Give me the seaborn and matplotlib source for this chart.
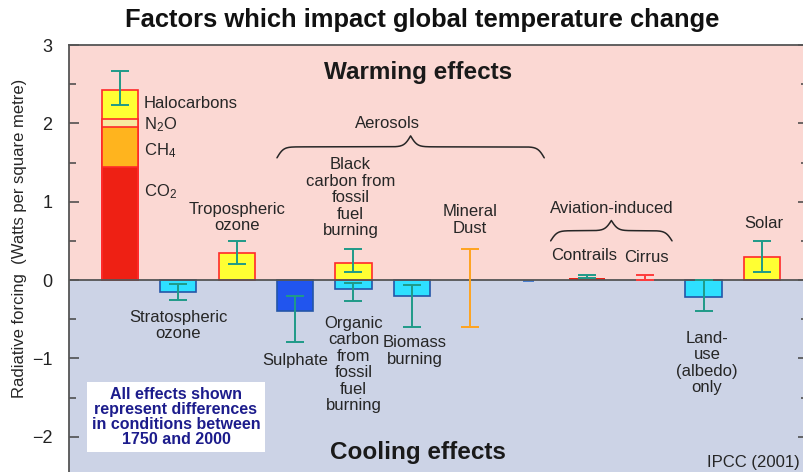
import matplotlib
matplotlib.use("Agg")
import matplotlib.pyplot as plt
import seaborn as sns
import numpy as np
import pandas as pd

# slots along the x axis, left to right
factors = ["Greenhouse gases", "Stratospheric ozone", "Tropospheric ozone", "Sulphate",
           "Fossil fuel carbon", "Biomass burning", "Mineral dust", "Indirect",
           "Contrails", "Cirrus", "Land-use", "Solar"]

# well mixed greenhouse gases (stacked, bottom to top)
ghg_names = ["CO$_2$", "CH$_4$", "N$_2$O", "Halocarbons"]
ghg_values = [1.44, 0.51, 0.11, 0.37]

# other single bars
bar_factors = ["Stratospheric ozone", "Tropospheric ozone", "Sulphate", "Biomass burning",
               "Indirect", "Contrails", "Land-use", "Solar"]
bar_values = [-0.15, 0.35, -0.39, -0.20, -0.02, 0.02, -0.22, 0.30]

# fossil fuel carbon aerosols: black (warming) and organic (cooling)
black_carbon = 0.22
organic_carbon = -0.11

# uncertainty ranges (low, high)
err_factors = ["Greenhouse gases", "Stratospheric ozone", "Tropospheric ozone", "Sulphate",
               "Fossil fuel carbon", "Fossil fuel carbon", "Biomass burning", "Mineral dust",
               "Contrails", "Cirrus", "Land-use", "Solar"]
err_low = [2.24, -0.26, 0.21, -0.79, 0.10, -0.27, -0.60, -0.60, 0.02, 0.00, -0.40, 0.10]
err_high = [2.67, -0.05, 0.50, -0.20, 0.40, -0.04, -0.06, 0.40, 0.07, 0.06, 0.00, 0.50]

sns.set_style("white")
plt.rcParams["font.family"] = ["Liberation Sans", "DejaVu Sans"]
plt.rcParams["mathtext.fontset"] = "custom"
plt.rcParams["mathtext.rm"] = "Liberation Sans"
plt.rcParams["mathtext.default"] = "regular"

W, H = 804, 472
fig = plt.figure(figsize=(W / 100, H / 100), dpi=100)
ax = fig.add_axes([69 / W, 0, (808 - 69) / W, 1 - 45 / H])

warm_edge = "#ff2a2a"
cool_edge = "#2456a8"
teal = "#1f9a88"
txt = "#262626"
pos = {f: i for i, f in enumerate(factors)}
bw = 0.62

# background: warming (pink) above zero, cooling (blue) below
ax.axhspan(0, 3, color="#fbd8d3", zorder=0)
ax.axhspan(-2.45, 0, color="#ccd3e6", zorder=0)

# stacked greenhouse gas bar, drawn from the top down
ghg_colors = ["#ee2014", "#ffb41e", "#f7e9a0", "#ffff33"]
tops = np.cumsum(ghg_values)
for i in reversed(range(len(ghg_values))):
    sns.barplot(x=[factors[0]], y=[tops[i]], order=factors, color=ghg_colors[i],
                edgecolor=warm_edge, linewidth=1.2, width=bw, saturation=1, ax=ax)

single = pd.DataFrame({"factor": bar_factors, "value": bar_values})
bar_cols = {"Stratospheric ozone": "#2ee0ff", "Tropospheric ozone": "#ffff33",
            "Sulphate": "#2155ee", "Biomass burning": "#2ee0ff", "Indirect": "#4a7fd0",
            "Contrails": "#ee2014", "Land-use": "#2ee0ff", "Solar": "#ffff33"}
sns.barplot(data=single, x="factor", y="value", hue="factor", order=factors,
            palette=bar_cols, legend=False, width=bw, saturation=1, linewidth=1.2, ax=ax)
for p in ax.patches[len(ghg_values):]:
    h = p.get_height()
    if h > 0:
        p.set_edgecolor(warm_edge)
    else:
        p.set_edgecolor(cool_edge)
# the small indirect mark is narrower and has no outline
for p in ax.patches:
    cx = p.get_x() + p.get_width() / 2
    if abs(cx - pos["Indirect"]) < 0.01:
        p.set_width(0.19)
        p.set_x(cx - 0.095)
        p.set_linewidth(0)
    if abs(cx - pos["Contrails"]) < 0.01:
        p.set_linewidth(0)

sns.barplot(x=["Fossil fuel carbon"], y=[organic_carbon], order=factors, color="#2ee0ff",
            edgecolor=cool_edge, linewidth=1.2, width=bw, saturation=1, ax=ax)
sns.barplot(x=["Fossil fuel carbon"], y=[black_carbon], order=factors, color="#ffff33",
            edgecolor=warm_edge, linewidth=1.2, width=bw, saturation=1, ax=ax)

# uncertainty bars
err_colors = {"Mineral dust": "#ffa31f", "Cirrus": "#ff3b3b"}
for f, lo, hi in zip(err_factors, err_low, err_high):
    ax.errorbar(pos[f], (lo + hi) / 2, yerr=(hi - lo) / 2, fmt="none",
                ecolor=err_colors.get(f, teal), elinewidth=1.4, capsize=6.5,
                capthick=1.4, zorder=5)

ax.axhline(0, color="#555555", lw=1.3, zorder=4)


def draw_brace(x0, x1, y_end, y_flat, beta=18):
    # horizontal curly brace, tip pointing up
    xs = np.linspace(x0, x1, 401)
    half = xs[:201]
    v = (1 / (1 + np.exp(-beta * (half - half[0])))
         + 1 / (1 + np.exp(-beta * (half - half[-1]))))
    v = np.concatenate((v, v[-2::-1]))
    ax.plot(xs, y_end + (v - 0.5) * 2 * (y_flat - y_end), color=txt, lw=1.1, zorder=5)


draw_brace(pos["Sulphate"] - 0.31, pos["Indirect"] + 0.27, 1.56, 1.70)
draw_brace(pos["Contrails"] - 0.62, pos["Cirrus"] + 0.46, 0.50, 0.63)

fs = 12
ls = 1.12
ghg_base = [1.072, 1.596, 1.928, 2.196]
for name, yb in zip(ghg_names, ghg_base):
    ax.text(pos[factors[0]] + 0.41, yb, name, ha="left", va="baseline", fontsize=fs, color=txt)

# (text, slot, x offset, baseline of the last line)
labels = [
    ("Stratospheric\nozone", "Stratospheric ozone", 0, -0.74),
    ("Tropospheric\nozone", "Tropospheric ozone", 0, 0.638),
    ("Sulphate", "Sulphate", 0, -1.085),
    ("Black\ncarbon from\nfossil\nfuel\nburning", "Fossil fuel carbon", -0.05, 0.574),
    ("Organic\ncarbon\nfrom\nfossil\nfuel\nburning", "Fossil fuel carbon", 0, -1.66),
    ("Biomass\nburning", "Biomass burning", 0.05, -1.07),
    ("Mineral\nDust", "Mineral dust", 0, 0.604),
    ("Aerosols", "Biomass burning", -0.42, 1.94),
    ("Aviation-induced", "Contrails", 0.42, 0.855),
    ("Contrails", "Contrails", -0.05, 0.255),
    ("Cirrus", "Cirrus", 0.02, 0.23),
    ("Land-\nuse\n(albedo)\nonly", "Land-use", 0.06, -1.43),
    ("Solar", "Solar", 0.03, 0.664),
]
for text, f, dx, yb in labels:
    ax.text(pos[f] + dx, yb, text, ha="center", va="baseline", fontsize=fs,
            color=txt, linespacing=ls, multialignment="center")

ax.set_xlim(-0.874, 11.79)
ax.set_ylim(-2.45, 3)
ax.set_xticks([])
ax.set_xlabel("")
ax.set_ylabel("")
ax.set_yticks([-2, -1, 0, 1, 2, 3])
ax.set_yticks(np.arange(-2, 3.01, 0.5), minor=True)
ax.tick_params(axis="y", which="both", direction="in", left=True, right=True,
               colors="#444444", labelcolor="#222222", labelsize=13, pad=12)
ax.tick_params(axis="y", which="major", length=7, width=1.1)
ax.tick_params(axis="y", which="minor", length=5, width=1.1)
for s in ["bottom", "right"]:
    ax.spines[s].set_visible(False)
for s in ["top", "left"]:
    ax.spines[s].set_color("#555555")
    ax.spines[s].set_linewidth(1.3)

fig.text(422 / W, 1 - 20 / H, "Factors which impact global temperature change",
         ha="center", va="center", fontsize=18.4, fontweight="bold", color="#111111")
fig.text(418 / W, 1 - 73 / H, "Warming effects", ha="center", va="center",
         fontsize=17.5, fontweight="bold", color="#1a1a1a")
fig.text(418 / W, 1 - 452 / H, "Cooling effects", ha="center", va="center",
         fontsize=17.5, fontweight="bold", color="#1a1a1a")
fig.text(20 / W, 1 - 238 / H, "Radiative forcing  (Watts per square metre)",
         rotation=90, ha="center", va="center", fontsize=12, color=txt)
fig.text(800 / W, 1 - 462 / H, "IPCC (2001)", ha="right", va="center",
         fontsize=12, color=txt)
fig.text(176 / W, 1 - 417 / H,
         "All effects shown\nrepresent differences\nin conditions between\n1750 and 2000",
         ha="center", va="center", fontsize=11.5, fontweight="bold", color="#1c1c8c",
         linespacing=1.0, multialignment="center",
         bbox=dict(boxstyle="square,pad=0.3", fc="white", ec="none"))

fig.savefig("out.png", dpi=100)
